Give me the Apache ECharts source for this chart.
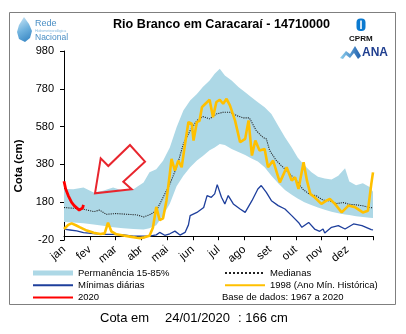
<!DOCTYPE html>
<html><head><meta charset="utf-8">
<script src="https://cdn.jsdelivr.net/npm/echarts@6/dist/echarts.min.js"></script>
<style>html,body{margin:0;padding:0;background:#fff}#c{width:406px;height:334px}</style>
</head><body><div id="c"></div>
<script>
const months = ['jan','fev','mar','abr','mai','jun','jul','ago','set','out','nov','dez'];
const yTicks = [-20, 180, 380, 580, 780, 980];

const bandDays = [0,11,23,35,46,58,70,82,94,101,109,117,125,133,141,149,157,164,172,178,184,190,198,206,214,221,229,237,245,253,261,269,276,284,292,300,308,316,324,332,337,345,353,361,365];
const bandLow  = [75,72,68,62,55,48,42,38,36,42,58,110,172,265,320,365,400,425,455,470,488,482,462,445,430,412,395,365,320,280,245,220,200,180,165,152,140,130,122,115,112,106,102,98,96];
const bandHigh = [250,249,258,231,240,258,240,249,284,338,355,399,470,576,665,718,753,789,824,860,886,851,824,789,762,736,709,683,647,585,523,470,417,375,340,315,305,300,320,360,290,270,280,260,235];

const medianDays = [0,11,23,35,42,50,62,74,86,94,101,109,117,125,133,141,149,157,164,172,180,188,196,204,212,219,227,235,239,243,251,259,267,275,282,290,298,306,314,322,330,337,345,353,361,365];
const medianVals = [152,148,143,130,138,116,120,116,113,102,113,134,205,276,364,488,559,612,633,621,647,656,656,638,626,626,559,523,515,453,399,364,329,293,249,222,214,191,187,173,178,169,166,161,152,150];

const minDays = [0,7,15,23,35,46,58,70,82,94,101,109,113,119,125,131,137,143,147,149,157,165,169,174,178,181,186,190,194,200,208,214,222,229,233,239,245,253,261,269,277,281,289,296,302,306,308,316,324,332,342,352,363,365];
const minVals = [37,33,28,19,14,10,10,7,1,1,1,7,20,5,13,27,6,20,60,109,126,152,215,206,224,273,206,171,215,171,144,126,188,250,268,232,188,162,144,109,73,47,73,38,26,38,17,47,56,38,65,56,35,33];

const y1998Days = [0,5,9,14,19,27,35,43,48,52,56,62,70,78,86,90,95,101,105,109,113,117,121,125,127,131,135,139,143,147,151,153,157,160,163,167,172,176,180,184,188,192,196,202,208,214,218,222,226,231,237,241,243,247,255,263,269,273,277,283,287,291,296,304,310,314,320,328,336,344,353,359,363,365];
const y1998Vals = [38,60,68,58,47,30,18,12,15,72,25,10,4,-2,-8,-10,-6,3,45,155,85,95,188,330,409,347,400,365,489,604,595,506,604,610,683,701,722,630,710,722,701,727,692,613,497,515,613,427,506,453,462,365,356,400,285,365,294,312,250,391,294,224,206,171,188,197,171,126,162,153,126,135,277,338];

const y2020Days = [0,2,5,9,12,15,18,20,22,23];
const y2020Vals = [291,250,215,179,162,150,138,136,150,166];

const FONT = 'Liberation Sans, Arial, sans-serif';
const pairs = (xs, ys) => xs.map((x, i) => [x, ys[i]]);
const monthStep = 365 / 12;
const tickVals = months.map((m, i) => i * monthStep).concat([365]);
const labelVals = months.map((m, i) => i * monthStep);
const BAND = '#add8e6';

const chart = echarts.init(document.getElementById('c'), null, {renderer: 'canvas'});
chart.setOption({
  animation: false,
  backgroundColor: '#fff',
  title: {
    text: 'Rio Branco em Caracaraí - 14710000',
    left: 113, top: 18, padding: 0,
    textStyle: {fontFamily: FONT, fontSize: 12.6, fontWeight: 'bold', color: '#000'}
  },
  grid: {left: 64, top: 51, width: 309, height: 189, containLabel: false},
  xAxis: {
    type: 'value', min: 0, max: 365,
    axisLine: {lineStyle: {color: '#000', width: 1}},
    axisTick: {show: true, length: 4, customValues: tickVals, lineStyle: {color: '#000'}},
    axisLabel: {
      customValues: labelVals, rotate: 40, margin: 8,
      fontFamily: FONT, fontSize: 11.5, color: '#000',
      formatter: v => months[Math.round(v / monthStep)] || ''
    },
    splitLine: {show: false}
  },
  yAxis: {
    type: 'value', min: -20, max: 980,
    axisLine: {show: true, lineStyle: {color: '#000', width: 1}},
    axisTick: {show: true, length: 4, customValues: yTicks, lineStyle: {color: '#000'}},
    axisLabel: {customValues: yTicks, margin: 10, fontFamily: FONT, fontSize: 11, color: '#000'},
    splitLine: {show: false}
  },
  legend: [
    {
      orient: 'vertical', left: 32, top: 267, padding: 0, itemGap: 0,
      itemWidth: 40, itemHeight: 5, selectedMode: false,
      itemStyle: {opacity: 0},
      textStyle: {fontFamily: FONT, fontSize: 9.5, color: '#000', lineHeight: 12.2},
      data: [
        {name: 'Permanência 15-85%', icon: 'rect', itemStyle: {color: BAND, opacity: 1}},
        {name: 'Mínimas diárias'},
        {name: '2020'}
      ]
    },
    {
      orient: 'vertical', left: 224, top: 267, padding: 0, itemGap: 0,
      itemWidth: 40, itemHeight: 5, selectedMode: false,
      itemStyle: {opacity: 0},
      textStyle: {fontFamily: FONT, fontSize: 9.5, color: '#000', lineHeight: 12.2},
      data: [{name: 'Medianas'}, {name: '1998 (Ano Mín. Histórica)'}]
    }
  ],
  series: [
    {
      name: 'Permanência 15-85%', type: 'custom', silent: true, z: 1,
      clip: true,
      itemStyle: {color: BAND},
      data: bandDays.map((d, i) => [d, bandLow[i], bandHigh[i]]),
      encode: {x: 0, y: [1, 2]},
      renderItem: function (params, api) {
        if (params.dataIndex !== 0) return null;
        const pts = [];
        for (let i = 0; i < bandDays.length; i++) pts.push(api.coord([bandDays[i], bandHigh[i]]));
        for (let i = bandDays.length - 1; i >= 0; i--) pts.push(api.coord([bandDays[i], bandLow[i]]));
        return {type: 'polygon', shape: {points: pts}, style: {fill: BAND}};
      }
    },
    {
      name: 'Mínimas diárias', type: 'line', symbol: 'none',
      data: pairs(minDays, minVals),
      lineStyle: {color: '#1e3f9c', width: 1.3}, itemStyle: {color: '#1e3f9c'}, z: 3
    },
    {
      name: 'Medianas', type: 'line', symbol: 'none',
      data: pairs(medianDays, medianVals),
      lineStyle: {color: '#222', width: 1.1, type: 'dotted'}, itemStyle: {color: '#222'}, z: 4
    },
    {
      name: '1998 (Ano Mín. Histórica)', type: 'line', symbol: 'none',
      data: pairs(y1998Days, y1998Vals),
      lineStyle: {color: '#ffc000', width: 2.6}, itemStyle: {color: '#ffc000'}, z: 5
    },
    {
      name: '2020', type: 'line', symbol: 'none',
      data: pairs(y2020Days, y2020Vals),
      lineStyle: {color: '#ff0000', width: 2.8}, itemStyle: {color: '#ff0000'}, z: 6
    }
  ],
  graphic: [
    {type: 'rect', shape: {x: 9.5, y: 12.5, width: 386, height: 292}, style: {fill: 'none', stroke: '#7f7f7f', lineWidth: 1}, z: -1, silent: true},
    {type: 'text', x: 19, y: 166, rotation: Math.PI / 2,
      style: {text: 'Cota (cm)', font: 'bold 11.5px ' + FONT, fill: '#000', textAlign: 'center', textVerticalAlign: 'middle'}},
    {type: 'polygon', shape: {points: [[95,193.3],[100.7,158.3],[108.3,166],[130,145],[145,161.7],[123.3,181.7],[131.7,189.3]]},
      style: {fill: 'none', stroke: '#e8262e', lineWidth: 2}, z: 10},
    {type: 'text', x: 222, y: 297, style: {text: 'Base de dados: 1967 a 2020', font: '9.5px ' + FONT, fill: '#000', textVerticalAlign: 'middle'}},
    {type: 'text', x: 100, y: 318, style: {text: 'Cota em', font: '13px ' + FONT, fill: '#000', textVerticalAlign: 'middle'}},
    {type: 'text', x: 165, y: 318, style: {text: '24/01/2020', font: '13px ' + FONT, fill: '#000', textVerticalAlign: 'middle'}},
    {type: 'text', x: 238, y: 318, style: {text: ': 166 cm', font: '13px ' + FONT, fill: '#000', textVerticalAlign: 'middle'}},
    {type: 'polygon', shape: {points: [[24,17],[29,24],[32,31],[30,38],[25,42],[19,39],[17,32],[19,25]]},
      style: {fill: new echarts.graphic.LinearGradient(0, 0, 1, 1, [{offset: 0, color: '#cfe9f7'}, {offset: 0.5, color: '#6fb2de'}, {offset: 1, color: '#2f7fbf'}])}},
    {type: 'text', x: 35, y: 23.5, style: {text: 'Rede', font: '9px ' + FONT, fill: '#4a8fc5', textVerticalAlign: 'middle'}},
    {type: 'text', x: 35, y: 31, style: {text: 'Hidrometeorológica', font: '3.6px ' + FONT, fill: '#7fb7df', textVerticalAlign: 'middle'}},
    {type: 'text', x: 35, y: 38, style: {text: 'Nacional', font: '8.5px ' + FONT, fill: '#4a8fc5', textVerticalAlign: 'middle'}},
    {type: 'rect', shape: {x: 356.5, y: 18.5, width: 9, height: 12.5, r: 4}, style: {fill: '#0b7ad0'}},
    {type: 'rect', shape: {x: 360.2, y: 20.5, width: 1.6, height: 8.5}, style: {fill: '#fff'}},
    {type: 'text', x: 360.8, y: 38.5, style: {text: 'CPRM', font: 'bold 8px ' + FONT, fill: '#111', textAlign: 'center', textVerticalAlign: 'middle'}},
    {type: 'polygon', shape: {points: [[340,58],[346,51],[350,54],[355,46],[361,56],[358,59],[354,53],[350,58],[346,55],[343,59]]},
      style: {fill: new echarts.graphic.LinearGradient(0, 0, 1, 0, [{offset: 0, color: '#8fd0ee'}, {offset: 1, color: '#1f5fae'}])}},
    {type: 'text', x: 375, y: 53, style: {text: 'ANA', font: 'bold 12px ' + FONT, fill: '#1f3e8f', textAlign: 'center', textVerticalAlign: 'middle'}}
  ]
});
</script>
</body></html>
